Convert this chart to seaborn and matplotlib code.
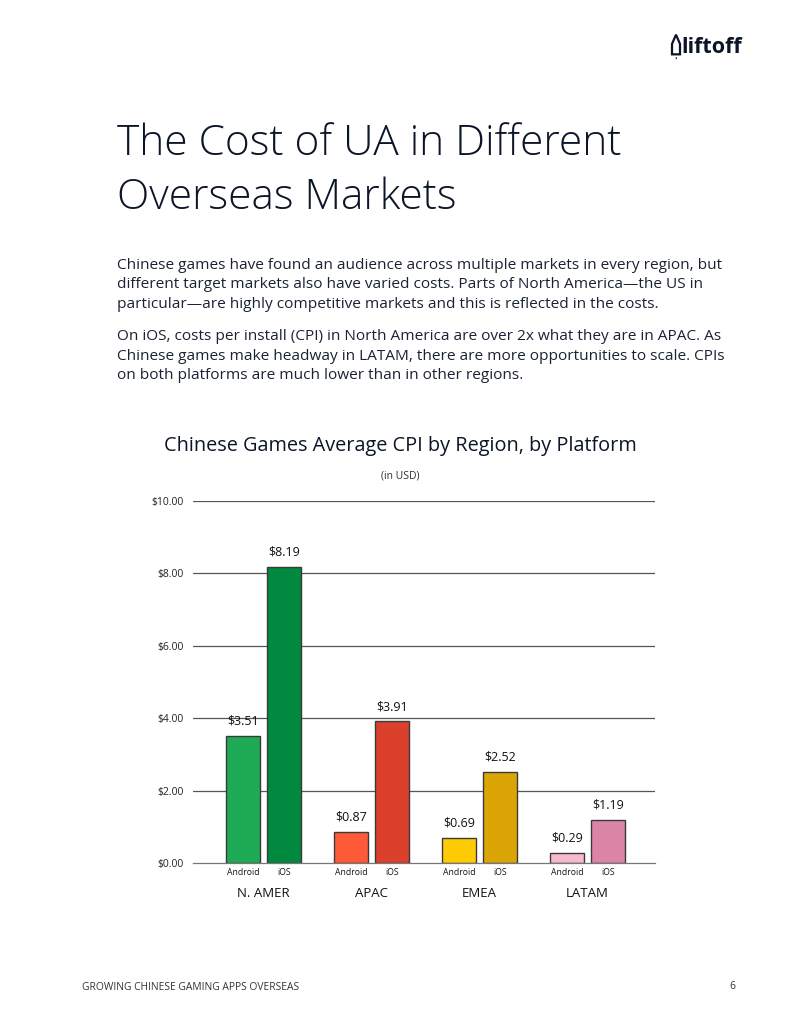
import pandas as pd
import matplotlib.pyplot as plt
import seaborn as sns
from matplotlib.patches import Polygon
from matplotlib.transforms import blended_transform_factory

# Data
regions = ["N. AMER", "APAC", "EMEA", "LATAM"]
platforms = ["Android", "iOS"]
android_cpi = [3.51, 0.87, 0.69, 0.29]
ios_cpi = [8.19, 3.91, 2.52, 1.19]
android_colors = ["#1faa55", "#ff5a38", "#ffcb05", "#f6b9cf"]
ios_colors = ["#00893f", "#da402c", "#dba605", "#db84a6"]
y_ticks = [0, 2, 4, 6, 8, 10]

df = pd.DataFrame({
    "region": regions * 2,
    "platform": ["Android"] * 4 + ["iOS"] * 4,
    "cpi": android_cpi + ios_cpi,
})

INK = "#0c1527"
sns.set_theme(style="white")
plt.rcParams["font.family"] = ["Open Sans", "DejaVu Sans"]

fig = plt.figure(figsize=(8, 10.35), dpi=100)
ax = fig.add_axes([0.24125, 0.16618, 0.5775, 0.34976])

sns.barplot(
    data=df, x="region", y="cpi", hue="platform", hue_order=platforms,
    order=regions, width=0.76, gap=0.17, ax=ax, legend=False,
    edgecolor="#3a3a3a", linewidth=1.0, saturation=1,
)

# Individual colours per bar and value labels
for container, cols in zip(ax.containers, [android_colors, ios_colors]):
    for patch, c in zip(container, cols):
        patch.set_facecolor(c)
    ax.bar_label(container, labels=[f"${v:.2f}" for v in container.datavalues],
                 padding=6, fontsize=9, color="#111111")

ax.set_xlim(-0.653, 3.625)
ax.set_ylim(0, 10)
ax.set_yticks(y_ticks)
ax.set_yticklabels([f"${t:.2f}" for t in y_ticks], fontsize=7.5, color="#222222")
ax.tick_params(axis="y", length=0, pad=7)
for t in y_ticks[1:]:
    ax.axhline(t, color="#555555", linewidth=0.9, zorder=0)
for s in ["top", "right", "left"]:
    ax.spines[s].set_visible(False)
ax.spines["bottom"].set_color("#777777")
ax.spines["bottom"].set_linewidth(0.9)
ax.set_xlabel("")
ax.set_ylabel("")

# Region labels as x tick labels, platform labels just under the bars
ax.set_xticks(range(len(regions)))
ax.set_xticklabels(regions, fontsize=9.5, color="#111111")
ax.tick_params(axis="x", length=0, pad=17)
trans = blended_transform_factory(ax.transData, ax.transAxes)
for container, plat in zip(ax.containers, platforms):
    for patch in container:
        cx = patch.get_x() + patch.get_width() / 2
        ax.text(cx, -0.025, plat, transform=trans, ha="center", va="center",
                fontsize=6.2, color="#111111")

# Page text
fig.text(0.146, 0.861, "The Cost of UA in Different", fontsize=30.5, color=INK,
         fontweight="light", va="center")
fig.text(0.146, 0.809, "Overseas Markets", fontsize=30.5, color=INK,
         fontweight="light", va="center")

para1 = ("Chinese games have found an audience across multiple markets in every region, but\n"
         "different target markets also have varied costs. Parts of North America\u2014the US in\n"
         "particular\u2014are highly competitive markets and this is reflected in the costs.")
para2 = ("On iOS, costs per install (CPI) in North America are over 2x what they are in APAC. As\n"
         "Chinese games make headway in LATAM, there are more opportunities to scale. CPIs\n"
         "on both platforms are much lower than in other regions.")
fig.text(0.146, 0.751, para1, fontsize=11.1, color="#1a2233", va="top", linespacing=1.42)
fig.text(0.146, 0.682, para2, fontsize=11.1, color="#1a2233", va="top", linespacing=1.42)

fig.text(0.5, 0.569, "Chinese Games Average CPI by Region, by Platform", fontsize=14.3,
         color=INK, ha="center", va="center", fontweight="medium")
fig.text(0.5, 0.540, "(in USD)", fontsize=7.5, color="#333333", ha="center", va="center")

fig.text(0.1025, 0.0455, "GROWING CHINESE GAMING APPS OVERSEAS", fontsize=7.4,
         color="#333333", va="center")
fig.text(0.915, 0.0465, "6", fontsize=7.5, color="#333333", va="center", ha="center")

# Logo: small rocket outline + wordmark
rocket = Polygon([(0.8400, 0.9475), (0.8400, 0.9575), (0.8450, 0.9665),
                  (0.8500, 0.9575), (0.8500, 0.9475)],
                 closed=True, fill=False, edgecolor=INK, linewidth=1.6,
                 transform=fig.transFigure)
fig.patches.append(rocket)
fig.text(0.845, 0.9425, "\u2022", fontsize=5, color=INK, ha="center", va="center")
fig.text(0.928, 0.954, "liftoff", fontsize=15.5, color=INK, fontweight="bold",
         ha="right", va="center")

fig.savefig("out.png", dpi=100, facecolor="white")
